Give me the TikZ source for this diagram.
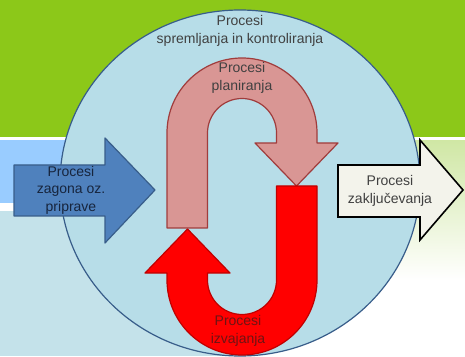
\documentclass[tikz,border=0pt]{standalone}
\usepackage{fontspec}
\setmainfont{Liberation Sans}
\definecolor{zelena}{RGB}{140,200,25}
\definecolor{modra}{RGB}{153,204,255}
\definecolor{bledomodra}{RGB}{196,226,234}
\definecolor{bledozelena}{RGB}{208,231,165}
\definecolor{krog}{RGB}{183,221,232}
\definecolor{krogrob}{RGB}{56,93,138}
\definecolor{roza}{RGB}{217,150,148}
\definecolor{rozarob}{RGB}{160,60,60}
\definecolor{rdeca}{RGB}{255,0,0}
\definecolor{rdecarob}{RGB}{192,0,0}
\definecolor{puscica}{RGB}{79,129,189}
\definecolor{bela}{RGB}{243,243,235}
\begin{document}
\begin{tikzpicture}[x=1pt,y=1pt,
 besedilo/.style={align=center,font=\fontsize{14}{17.5}\selectfont,text=black!75},
 rob/.style={line width=1.2pt,line join=round}]
 \useasboundingbox (0,0) rectangle (465,356);
 % ozadje
 \fill[white] (0,0) rectangle (465,356);
 \fill[zelena] (0,219) rectangle (465,356);
 \fill[modra] (0,153) rectangle (240,216);
 \fill[bledomodra] (0,0) rectangle (240,145);
 \shade[top color=bledozelena,bottom color=white] (240,76) rectangle (465,215);
 % krog
 \draw[rob,fill=krog,draw=krogrob] (240,173) ellipse [x radius=180,y radius=173];
 \node[besedilo] (spr) at (240,325) {Procesi\\spremljanja in kontroliranja};
 % planiranje
 \draw[rob,fill=roza,draw=rozarob]
 (167,128)--(167,223) arc[start angle=180,end angle=0,radius=75]
 --(317,213)--(338,213)--(296.5,170)--(255,213)--(276.5,213)--(276.5,223)
 arc[start angle=0,end angle=180,radius=34.5]--(207.5,128)--cycle;
 \node[besedilo] (plan) at (242,278) {Procesi\\planiranja};
 % izvajanje
 \draw[rob,fill=rdeca,draw=rdecarob]
 (276.5,170)--(317,170)--(317,76) arc[start angle=0,end angle=-180,radius=75]
 --(167,83)--(145,83)--(187.5,127)--(230,83)--(207.5,83)--(207.5,76)
 arc[start angle=180,end angle=360,radius=34.5]--cycle;
 \node[besedilo,text={rgb,255:red,110;green,20;blue,20}] (izv) at (238,25) {Procesi\\izvajanja};
 % zagon
 \draw[rob,fill=puscica,draw=krogrob]
 (14,140)--(14,191)--(105,191)--(105,218)--(155,166)--(105,113)--(105,140)--cycle;
 \node[besedilo,text={rgb,255:red,23;green,37;blue,61}] (zag) at (71,166) {Procesi\\zagona oz.\\priprave};
 % zakljucevanje
 \draw[line width=1.6pt,line join=miter,fill=bela,draw=black]
 (338,139)--(338,191)--(420,191)--(420,216)--(463,166)--(420,116)--(420,139)--cycle;
 \node[besedilo] (zak) at (390,165) {Procesi\\zaključevanja};
\end{tikzpicture}
\end{document}
